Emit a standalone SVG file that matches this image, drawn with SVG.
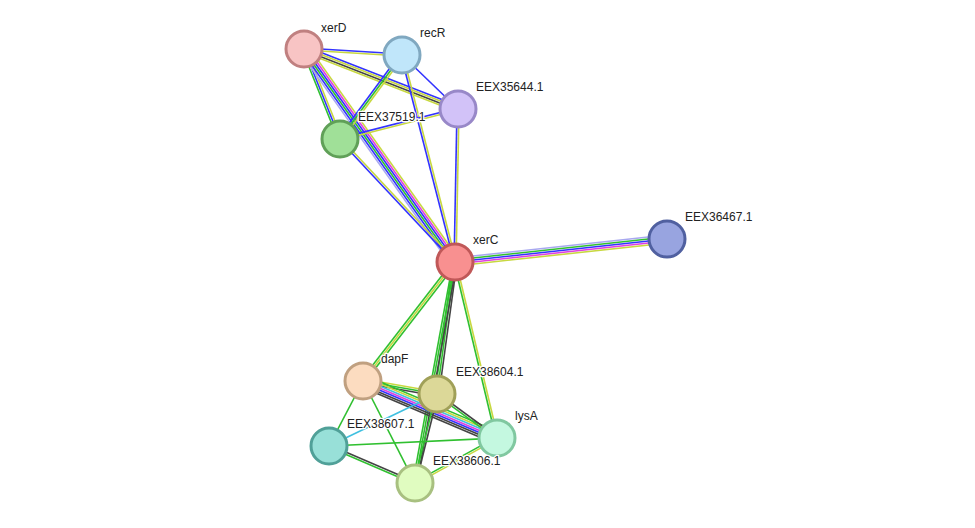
<svg xmlns="http://www.w3.org/2000/svg" width="975" height="528" viewBox="0 0 975 528">
<style>
line{stroke-width:1.6;fill:none}
.b{stroke:#3333ff}.y{stroke:#c8d840}.k{stroke:#444}.g{stroke:#30c030}.m{stroke:#e040e0}.l{stroke:#a8a8f0}.c{stroke:#40c0e0}
circle{stroke-width:3}
text{font-family:"Liberation Sans",Arial,sans-serif;font-size:12px;fill:#222;stroke:#fff;stroke-width:2.5;paint-order:stroke;stroke-linejoin:round}
</style>
<rect width="975" height="528" fill="#fff"/>
<g id="edges">
<g transform="translate(304 49) rotate(3.5)"><line class="b" x2="98.2" y1="-1" y2="-1"/><line class="y" x2="98.2" y1="1" y2="1"/></g>
<g transform="translate(304 49) rotate(21.3)"><line class="b" x2="165.3" y1="-3" y2="-3"/><line class="y" x2="165.3" y1="-1" y2="-1"/><line class="k" x2="165.3" y1="1" y2="1"/><line class="y" x2="165.3" y1="3" y2="3"/></g>
<g transform="translate(304 49) rotate(68.2)"><line class="y" x2="96.9" y1="-2" y2="-2"/><line class="b" x2="96.9"/><line class="g" x2="96.9" y1="2" y2="2"/></g>
<g transform="translate(304 49) rotate(54.7)"><line class="y" x2="261.1" y1="-5" y2="-5"/><line class="m" x2="261.1" y1="-3" y2="-3"/><line class="b" x2="261.1" y1="-1" y2="-1"/><line class="g" x2="261.1" y1="1" y2="1"/><line class="b" x2="261.1" y1="3" y2="3"/><line class="l" x2="261.1" y1="5" y2="5"/></g>
<g transform="translate(402 55) rotate(44)"><line class="b" x2="77.8"/></g>
<g transform="translate(402 55) rotate(126.4)"><line class="y" x2="104.4" y1="-2" y2="-2"/><line class="g" x2="104.4"/><line class="b" x2="104.4" y1="2" y2="2"/></g>
<g transform="translate(402 55) rotate(75.6)"><line class="y" x2="213.7" y1="-1" y2="-1"/><line class="b" x2="213.7" y1="1" y2="1"/></g>
<g transform="translate(458 109) rotate(165.7)"><line class="y" x2="121.8" y1="-1" y2="-1"/><line class="b" x2="121.8" y1="1" y2="1"/></g>
<g transform="translate(458 109) rotate(91.1)"><line class="y" x2="153" y1="-1" y2="-1"/><line class="b" x2="153" y1="1" y2="1"/></g>
<g transform="translate(340 139) rotate(46.9)"><line class="y" x2="168.4" y1="-1" y2="-1"/><line class="b" x2="168.4" y1="1" y2="1"/></g>
<g transform="translate(455 262) rotate(-6.2)"><line class="l" x2="213.2" y1="-4" y2="-4"/><line class="g" x2="213.2" y1="-2" y2="-2"/><line class="b" x2="213.2"/><line class="m" x2="213.2" y1="2" y2="2"/><line class="y" x2="213.2" y1="4" y2="4"/></g>
<g transform="translate(455 262) rotate(127.7)"><line class="g" x2="150.4" y1="-2" y2="-2"/><line class="y" x2="150.4"/><line class="g" x2="150.4" y1="2" y2="2"/></g>
<g transform="translate(455 262) rotate(97.8)"><line class="k" x2="133.2" y1="-2" y2="-2"/><line class="g" x2="133.2"/><line class="g" x2="133.2" y1="2" y2="2"/></g>
<g transform="translate(455 262) rotate(100.3)"><line class="k" x2="224.6" y1="-2" y2="-2"/><line class="g" x2="224.6"/><line class="g" x2="224.6" y1="2" y2="2"/></g>
<g transform="translate(455 262) rotate(76.6)"><line class="y" x2="180.9" y1="-1" y2="-1"/><line class="g" x2="180.9" y1="1" y2="1"/></g>
<g transform="translate(363 381) rotate(10)"><line class="y" x2="75.1" y1="-2" y2="-2"/><line class="g" x2="75.1"/><line class="k" x2="75.1" y1="2" y2="2"/></g>
<g transform="translate(363 381) rotate(23)"><line class="g" x2="145.6" y1="-6" y2="-6"/><line class="y" x2="145.6" y1="-4" y2="-4"/><line class="c" x2="145.6" y1="-2" y2="-2"/><line class="m" x2="145.6"/><line class="b" x2="145.6" y1="2" y2="2"/><line class="k" x2="145.6" y1="4" y2="4"/><line class="k" x2="145.6" y1="6" y2="6"/></g>
<g transform="translate(363 381) rotate(117.6)"><line class="g" x2="73.4"/></g>
<g transform="translate(363 381) rotate(63)"><line class="g" x2="114.5"/></g>
<g transform="translate(437 394) rotate(36.3)"><line class="k" x2="74.4" y1="-1" y2="-1"/><line class="g" x2="74.4" y1="1" y2="1"/></g>
<g transform="translate(437 394) rotate(154.3)"><line class="c" x2="119.9"/></g>
<g transform="translate(437 394) rotate(103.9)"><line class="k" x2="91.7" y1="-1" y2="-1"/><line class="g" x2="91.7" y1="1" y2="1"/></g>
<g transform="translate(329 446) rotate(-2.7)"><line class="g" x2="168.2"/></g>
<g transform="translate(329 446) rotate(23.3)"><line class="k" x2="93.6" y1="-1" y2="-1"/><line class="g" x2="93.6" y1="1" y2="1"/></g>
<g transform="translate(497 438) rotate(151.2)"><line class="y" x2="93.5" y1="-1" y2="-1"/><line class="g" x2="93.5" y1="1" y2="1"/></g>
</g>
<g id="xerD"><circle cx="304" cy="49" r="18" fill="#f8c4c4" stroke="#c08080"/><text x="321" y="32">xerD</text></g>
<g id="recR"><circle cx="402" cy="55" r="18" fill="#c0e6fa" stroke="#80a8c0"/><text x="420" y="37">recR</text></g>
<g id="EEX35644.1"><circle cx="458" cy="109" r="18" fill="#d2c2f8" stroke="#9888c8"/><text x="476" y="91">EEX35644.1</text></g>
<g id="EEX37519.1"><circle cx="340" cy="139" r="18" fill="#a0e098" stroke="#60a058"/><text x="358" y="121">EEX37519.1</text></g>
<g id="xerC"><circle cx="455" cy="262" r="18" fill="#f89090" stroke="#c05858"/><text x="473" y="244">xerC</text></g>
<g id="EEX36467.1"><circle cx="667" cy="239" r="18" fill="#98a4e0" stroke="#5060a0"/><text x="685" y="221">EEX36467.1</text></g>
<g id="dapF"><circle cx="363" cy="381" r="18" fill="#fcdcc0" stroke="#c0a080"/><text x="381" y="363">dapF</text></g>
<g id="EEX38604.1"><circle cx="437" cy="394" r="18" fill="#dcd898" stroke="#a0a058"/><text x="456" y="376">EEX38604.1</text></g>
<g id="EEX38607.1"><circle cx="329" cy="446" r="18" fill="#98e0d8" stroke="#50a098"/><text x="347" y="428">EEX38607.1</text></g>
<g id="lysA"><circle cx="497" cy="438" r="18" fill="#c4f8e0" stroke="#80c8a0"/><text x="515" y="420">lysA</text></g>
<g id="EEX38606.1"><circle cx="415" cy="483" r="18" fill="#e0fcc0" stroke="#a8c080"/><text x="433" y="465">EEX38606.1</text></g>
</svg>
